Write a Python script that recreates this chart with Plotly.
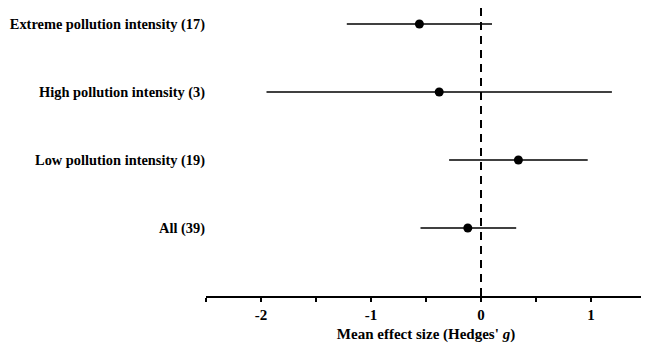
import plotly.graph_objects as go

labels = ["All (39)", "Low pollution intensity (19)", "High pollution intensity (3)", "Extreme pollution intensity (17)"]
rows = [1, 2, 3, 4]
means = [-0.12, 0.34, -0.38, -0.56]
ci_low = [-0.55, -0.29, -1.95, -1.22]
ci_high = [0.32, 0.97, 1.19, 0.10]

tick_vals = [-2, -1, 0, 1]
tick_text = ["-2", "-1", "0", "1"]

err_plus = [h - m for h, m in zip(ci_high, means)]
err_minus = [m - l for m, l in zip(means, ci_low)]

font_family = "Liberation Serif, Times New Roman, serif"

fig = go.Figure()
fig.add_trace(go.Scatter(
    x=means, y=rows, mode="markers",
    marker=dict(color="black", size=9, symbol="circle"),
    error_x=dict(type="data", symmetric=False, array=err_plus, arrayminus=err_minus,
                 color="black", thickness=1.5, width=0),
    showlegend=False,
))

fig.add_shape(type="line", xref="x", yref="paper", x0=0, x1=0, y0=0, y1=1,
              line=dict(color="black", width=2, dash="8px,6px"))

fig.update_layout(
    width=641, height=340,
    margin=dict(l=198, r=3, t=0, b=52, autoexpand=False),
    paper_bgcolor="white", plot_bgcolor="white",
    font=dict(family=font_family, color="black"),
    xaxis=dict(
        range=[-2.5, 1.5], tickvals=tick_vals, ticktext=tick_text,
        ticks="outside", ticklen=4, tickwidth=1.5, tickcolor="black",
        minor=dict(tickvals=[-2.5, -1.5, -0.5, 0.5, 1.5], ticks="outside", ticklen=4, tickwidth=1.5, tickcolor="black"),
        showline=True, linecolor="black", linewidth=2,
        showgrid=False, zeroline=False, automargin=False,
        tickfont=dict(family=font_family, size=15, color="black", weight="bold"),
        title=dict(text="<b>Mean effect size (Hedges' <i>g</i>)</b>", font=dict(family=font_family, size=15, color="black"), standoff=6),
    ),
    yaxis=dict(
        range=[0, 4.235], tickvals=rows, ticktext=labels,
        ticks="", showline=False, showgrid=False, zeroline=False,
        ticklabelstandoff=0, automargin=False,
        tickfont=dict(family=font_family, size=14.4, color="black", weight="bold"),
    ),
)

fig.write_html("out.html")
